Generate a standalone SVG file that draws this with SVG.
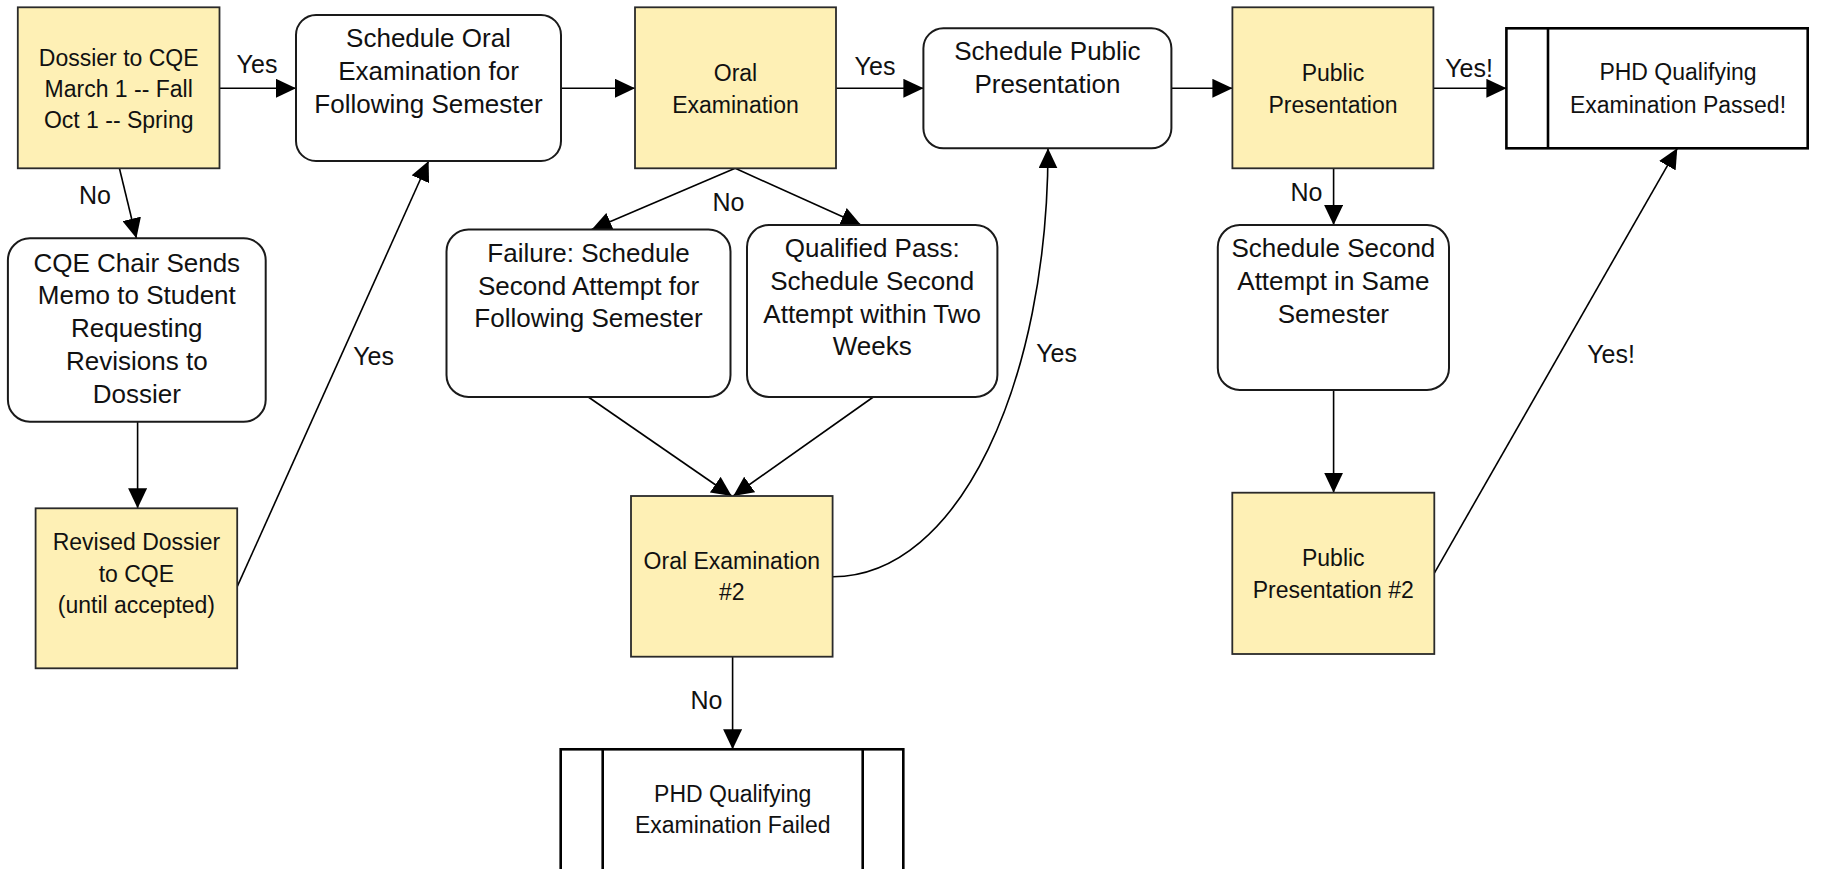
<svg xmlns="http://www.w3.org/2000/svg" width="1822" height="869" viewBox="0 0 1822 869">
<style>
.bg{fill:#ffffff}
.yb{fill:#fef0b5;stroke:#2a2a2a;stroke-width:1.8}
.wb{fill:#ffffff;stroke:#1a1a1a;stroke-width:2}
.tb{fill:#ffffff;stroke:#000;stroke-width:2.6}
.dv{stroke:#000;stroke-width:2.6;fill:none}
.t{font-family:"Liberation Sans",Arial,sans-serif;font-size:26px;fill:#111;text-anchor:middle}
.y{font-family:"Liberation Sans",Arial,sans-serif;font-size:23px;fill:#111;text-anchor:middle}
.l{font-family:"Liberation Sans",Arial,sans-serif;font-size:25px;fill:#111;text-anchor:middle}
.e{fill:none;stroke:#000;stroke-width:1.6}
</style>
<defs>
<marker id="ah" markerUnits="userSpaceOnUse" markerWidth="20" markerHeight="19" refX="20" refY="9.5" orient="auto" viewBox="0 0 20 19">
<path d="M0,0 L20,9.5 L0,19 z" fill="#000"/>
</marker>
</defs>
<rect class="bg" x="0" y="0" width="1822" height="869"/>

<g id="connectors">
<path class="e" d="M219.5,88.3 H296" marker-end="url(#ah)"/>
<path class="e" d="M561,88.3 H635" marker-end="url(#ah)"/>
<path class="e" d="M836,88.3 H923.4" marker-end="url(#ah)"/>
<path class="e" d="M1171.4,88.3 H1232.4" marker-end="url(#ah)"/>
<path class="e" d="M1433.3,88.3 H1506.4" marker-end="url(#ah)"/>
<path class="e" d="M119.4,168.3 L136.4,238.3" marker-end="url(#ah)"/>
<path class="e" d="M137.6,421.7 V508.3" marker-end="url(#ah)"/>
<path class="e" d="M237.2,586.7 L428.6,161" marker-end="url(#ah)"/>
<path class="e" d="M735.2,168.3 L591.7,229.5" marker-end="url(#ah)"/>
<path class="e" d="M735.2,168.3 L861,225" marker-end="url(#ah)"/>
<path class="e" d="M588.3,397 L731.7,496" marker-end="url(#ah)"/>
<path class="e" d="M873.3,397 L733.3,496" marker-end="url(#ah)"/>
<path class="e" d="M832.7,576.7 C960,576.7 1048,380 1048,148.3" marker-end="url(#ah)"/>
<path class="e" d="M1333.6,168.3 V225" marker-end="url(#ah)"/>
<path class="e" d="M1333.6,390 V492.7" marker-end="url(#ah)"/>
<path class="e" d="M1434.2,573.3 L1677.3,148.3" marker-end="url(#ah)"/>
<path class="e" d="M732.6,656.7 V749.3" marker-end="url(#ah)"/>
<text class="l" x="257" y="73.3">Yes</text>
<text class="l" x="875" y="75">Yes</text>
<text class="l" x="1469" y="76.7">Yes!</text>
<text class="l" x="95" y="204">No</text>
<text class="l" x="373.6" y="365">Yes</text>
<text class="l" x="728.5" y="210.7">No</text>
<text class="l" x="1056.6" y="361.7">Yes</text>
<text class="l" x="1306.5" y="200.7">No</text>
<text class="l" x="1611" y="363.3">Yes!</text>
<text class="l" x="706.5" y="709.3">No</text>
</g>

<g id="dossier">
<rect class="yb" x="17.8" y="7.3" width="201.7" height="161"/>
<text class="y" x="118.7" y="65.7">Dossier to CQE</text>
<text class="y" x="118.7" y="96.7">March 1 -- Fall</text>
<text class="y" x="118.7" y="127.7">Oct 1 -- Spring</text>
</g>

<g id="schedule-oral">
<rect class="wb" x="296" y="15" width="265" height="146" rx="20"/>
<text class="t" x="428.5" y="46.7">Schedule Oral</text>
<text class="t" x="428.5" y="80">Examination for</text>
<text class="t" x="428.5" y="112.7">Following Semester</text>
</g>

<g id="oral-exam">
<rect class="yb" x="635" y="7.3" width="201" height="161"/>
<text class="y" x="735.5" y="81">Oral</text>
<text class="y" x="735.5" y="112.7">Examination</text>
</g>

<g id="schedule-public">
<rect class="wb" x="923.4" y="28.3" width="248" height="120" rx="20"/>
<text class="t" x="1047.4" y="59.5">Schedule Public</text>
<text class="t" x="1047.4" y="92.5">Presentation</text>
</g>

<g id="public-presentation">
<rect class="yb" x="1232.4" y="7.3" width="201" height="161"/>
<text class="y" x="1333" y="81">Public</text>
<text class="y" x="1333" y="112.7">Presentation</text>
</g>

<g id="phd-passed">
<rect class="tb" x="1506.4" y="28.3" width="301.3" height="120"/>
<line class="dv" x1="1548" y1="28.3" x2="1548" y2="148.3"/>
<text class="y" x="1678" y="80">PHD Qualifying</text>
<text class="y" x="1678" y="113">Examination Passed!</text>
</g>

<g id="cqe-chair">
<rect class="wb" x="7.9" y="238.3" width="257.8" height="183.4" rx="22"/>
<text class="t" x="136.8" y="271.7">CQE Chair Sends</text>
<text class="t" x="136.8" y="304">Memo to Student</text>
<text class="t" x="136.8" y="336.7">Requesting</text>
<text class="t" x="136.8" y="370">Revisions to</text>
<text class="t" x="136.8" y="402.7">Dossier</text>
</g>

<g id="failure">
<rect class="wb" x="446.5" y="229.5" width="284" height="167.5" rx="22"/>
<text class="t" x="588.5" y="261.7">Failure: Schedule</text>
<text class="t" x="588.5" y="295">Second Attempt for</text>
<text class="t" x="588.5" y="326.7">Following Semester</text>
</g>

<g id="qualified-pass">
<rect class="wb" x="747" y="225" width="250.4" height="172" rx="22"/>
<text class="t" x="872.2" y="256.7">Qualified Pass:</text>
<text class="t" x="872.2" y="290">Schedule Second</text>
<text class="t" x="872.2" y="323.3">Attempt within Two</text>
<text class="t" x="872.2" y="355">Weeks</text>
</g>

<g id="second-attempt-same">
<rect class="wb" x="1217.8" y="225" width="231.2" height="165" rx="22"/>
<text class="t" x="1333.4" y="256.7">Schedule Second</text>
<text class="t" x="1333.4" y="290">Attempt in Same</text>
<text class="t" x="1333.4" y="322.7">Semester</text>
</g>

<g id="revised-dossier">
<rect class="yb" x="35.6" y="508.3" width="201.6" height="160"/>
<text class="y" x="136.4" y="550">Revised Dossier</text>
<text class="y" x="136.4" y="581.7">to CQE</text>
<text class="y" x="136.4" y="613.3">(until accepted)</text>
</g>

<g id="oral-exam-2">
<rect class="yb" x="631" y="496" width="201.6" height="160.7"/>
<text class="y" x="731.8" y="569.3">Oral Examination</text>
<text class="y" x="731.8" y="600">#2</text>
</g>

<g id="phd-failed">
<rect class="tb" x="560.7" y="749.3" width="342.6" height="140"/>
<line class="dv" x1="602.7" y1="749.3" x2="602.7" y2="889.3"/>
<line class="dv" x1="862.7" y1="749.3" x2="862.7" y2="889.3"/>
<text class="y" x="732.7" y="801.7">PHD Qualifying</text>
<text class="y" x="732.7" y="833.3">Examination Failed</text>
</g>

<g id="public-presentation-2">
<rect class="yb" x="1232.3" y="492.7" width="202" height="161.3"/>
<text class="y" x="1333.3" y="566">Public</text>
<text class="y" x="1333.3" y="598.3">Presentation #2</text>
</g>
</svg>
